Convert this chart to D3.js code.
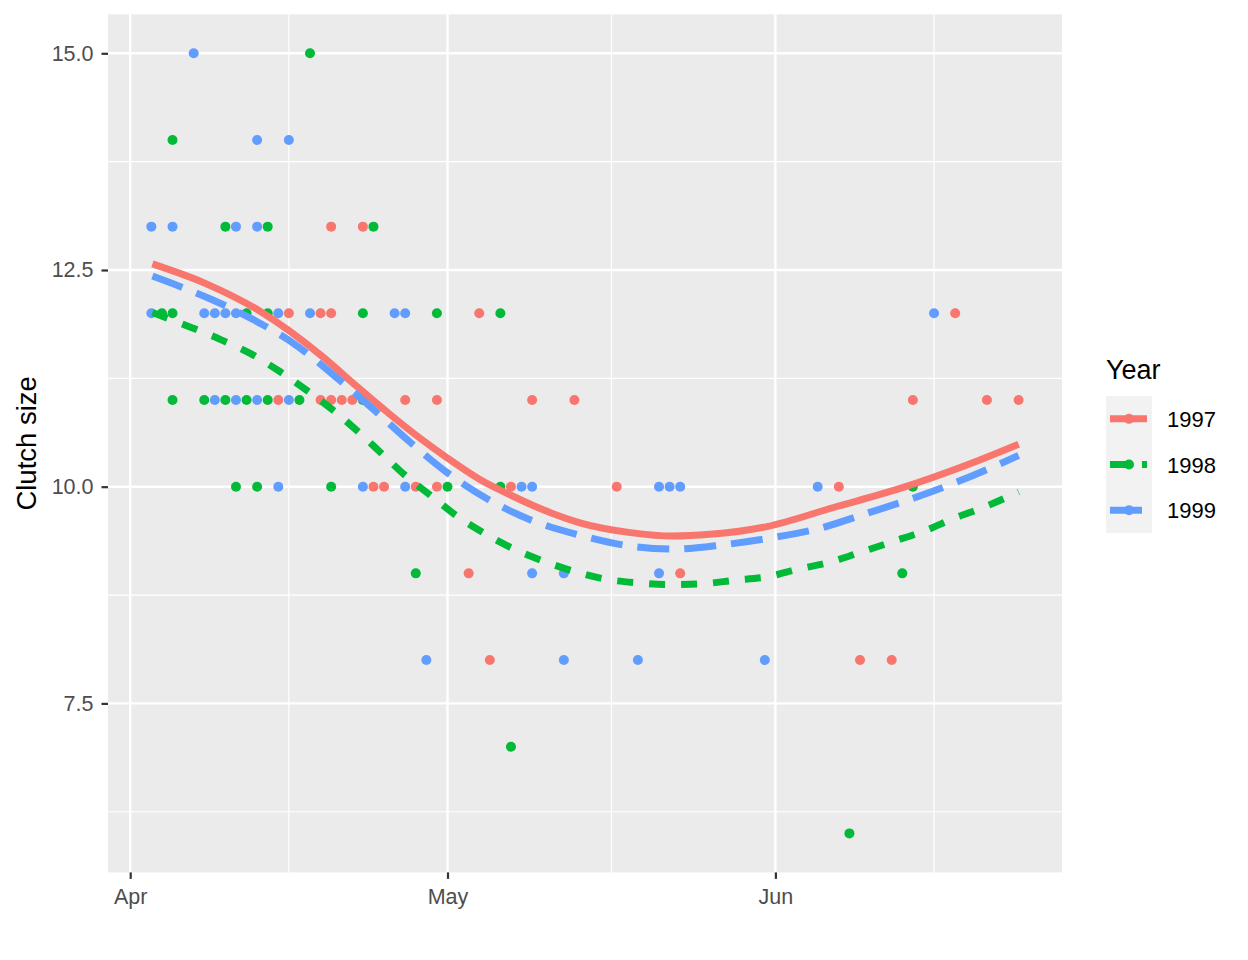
<!DOCTYPE html>
<html>
<head>
<meta charset="utf-8">
<script src="https://cdn.jsdelivr.net/npm/d3@7"></script>
<style>
  html, body { margin: 0; padding: 0; background: #ffffff; }
  svg { display: block; font-family: "Liberation Sans", Arial, sans-serif; }
</style>
</head>
<body>
<svg id="chart" width="1248" height="960"></svg>
<script>
// ---------------- data ----------------
const years = ["1997", "1998", "1999"];
const colors = ["#F8766D", "#00BA38", "#619CFF"];
const dashes = [null, "16,16", "32,15"];

// observed nests: laying date (MM-DD) and clutch size
const dates1997 = ["04-20","04-23","04-16","04-19","04-20","05-04","06-18",
  "04-15","04-19","04-20","04-21","04-22","04-27","04-30","05-09","05-13","06-14","06-21","06-24",
  "04-24","04-25","04-28","04-30","05-07","05-17","06-07","05-03","05-23","05-05","06-09","06-12"];
const clutch1997 = [13,13,12,12,12,12,12,
  11,11,11,11,11,11,11,11,11,11,11,11,
  10,10,10,10,10,10,10,9,9,8,8,8];

const dates1998 = ["04-18","04-05","04-10","04-14","04-24",
  "04-04","04-05","04-12","04-14","04-23","04-30","05-06",
  "04-05","04-08","04-10","04-12","04-14","04-17","04-23",
  "04-11","04-13","04-20","05-01","05-06","06-14","04-28","06-13","05-07","06-08"];
const clutch1998 = [15,14,13,13,13,
  12,12,12,12,12,12,12,
  11,11,11,11,11,11,11,
  10,10,10,10,10,10,9,9,7,6];

const dates1999 = ["04-07","04-13","04-16","04-03","04-05","04-11","04-13",
  "04-03","04-08","04-09","04-10","04-11","04-15","04-18","04-26","04-27","06-16",
  "04-09","04-11","04-13","04-16",
  "04-15","04-23","04-27","05-08","05-09","05-21","05-22","05-23","06-05",
  "05-09","05-12","05-21","04-29","05-12","05-19","05-31"];
const clutch1999 = [15,14,14,13,13,13,13,
  12,12,12,12,12,12,12,12,12,12,
  11,11,11,11,
  10,10,10,10,10,10,10,10,10,
  9,9,9,8,8,8,8];

// smoothed trend: days after 1 April, fitted clutch size
const smoothDays1997 = [2.1,7.2,12.2,18.2,21.4,24.5,27.5,30.0,33.1,36.2,39.1,42.6,47.3,51.3,54.8,60.2,66.5,72.8,79.1,84.0];
const smoothVals1997 = [12.57,12.34,12.03,11.50,11.16,10.84,10.55,10.33,10.08,9.89,9.73,9.58,9.47,9.43,9.45,9.54,9.76,9.98,10.25,10.49];

const smoothDays1998 = [2.1,5.7,8.5,11.3,14.0,16.6,19.1,21.5,23.8,26.1,28.5,30.9,33.5,36.3,39.1,42.05,45.1,48.1,51.1,54.1,57.1,60.2,63.2,66.2,69.2,72.2,75.1,78.0,80.85,84.0];
const smoothVals1998 = [12.01,11.84,11.70,11.54,11.34,11.12,10.89,10.64,10.38,10.12,9.89,9.66,9.46,9.28,9.14,9.02,8.93,8.89,8.87,8.88,8.92,8.96,9.05,9.13,9.25,9.37,9.49,9.64,9.77,9.94];

const smoothDays1999 = [2.1,4.7,7.7,11.75,15.6,19.3,23.1,26.4,30.0,33.9,38.0,42.5,47.0,51.5,56.1,60.6,65.2,69.6,74.1,78.5,84.0];
const smoothVals1999 = [12.43,12.31,12.16,11.92,11.64,11.28,10.88,10.52,10.16,9.85,9.61,9.44,9.32,9.28,9.33,9.41,9.52,9.69,9.87,10.07,10.36];

// axis ticks
const xTickDates = ["04-01","05-01","06-01"];
const xTickLabels = ["Apr","May","Jun"];
const xMinorDays = [15, 45.5, 76];
const yTicks = [7.5, 10.0, 12.5, 15.0];
const yMinor = [6.25, 8.75, 11.25, 13.75];
const xDomainDays = [-2.1, 88.1];
const yDomain = [5.55, 15.45];

// ---------------- helpers ----------------
const BASE = Date.UTC(2001, 3, 1);
const fromDays = d => new Date(BASE + d * 864e5);
const fromMD = s => { const [m, d] = s.split("-").map(Number); return new Date(Date.UTC(2001, m - 1, d)); };

const panel = { left: 108, right: 1062, top: 14.3, bottom: 872.4 };

const x = d3.scaleUtc().domain(xDomainDays.map(fromDays)).range([panel.left, panel.right]);
const y = d3.scaleLinear().domain(yDomain).range([panel.bottom, panel.top]);

const svg = d3.select("#chart");

// panel background
svg.append("rect")
  .attr("x", panel.left).attr("y", panel.top)
  .attr("width", panel.right - panel.left).attr("height", panel.bottom - panel.top)
  .attr("fill", "#EBEBEB");

const grid = svg.append("g");
// minor grid
grid.selectAll("line.ymin").data(yMinor).join("line")
  .attr("x1", panel.left).attr("x2", panel.right)
  .attr("y1", d => y(d)).attr("y2", d => y(d))
  .attr("stroke", "#ffffff").attr("stroke-width", 1.2);
grid.selectAll("line.xmin").data(xMinorDays).join("line")
  .attr("y1", panel.top).attr("y2", panel.bottom)
  .attr("x1", d => x(fromDays(d))).attr("x2", d => x(fromDays(d)))
  .attr("stroke", "#ffffff").attr("stroke-width", 1.2);
// major grid
grid.selectAll("line.ymaj").data(yTicks).join("line")
  .attr("x1", panel.left).attr("x2", panel.right)
  .attr("y1", d => y(d)).attr("y2", d => y(d))
  .attr("stroke", "#ffffff").attr("stroke-width", 2.4);
grid.selectAll("line.xmaj").data(xTickDates).join("line")
  .attr("y1", panel.top).attr("y2", panel.bottom)
  .attr("x1", d => x(fromMD(d))).attr("x2", d => x(fromMD(d)))
  .attr("stroke", "#ffffff").attr("stroke-width", 2.4);

// points
const pointSets = [
  { dates: dates1997, vals: clutch1997 },
  { dates: dates1998, vals: clutch1998 },
  { dates: dates1999, vals: clutch1999 }
];
pointSets.forEach((s, i) => {
  svg.append("g").selectAll("circle").data(s.dates.map((d, j) => ({ d: fromMD(d), v: s.vals[j] })))
    .join("circle")
    .attr("cx", p => x(p.d)).attr("cy", p => y(p.v)).attr("r", 5)
    .attr("fill", colors[i]);
});

// smooth lines
const smoothSets = [
  { days: smoothDays1997, vals: smoothVals1997 },
  { days: smoothDays1998, vals: smoothVals1998 },
  { days: smoothDays1999, vals: smoothVals1999 }
];
const line = d3.line().x(p => x(fromDays(p[0]))).y(p => y(p[1])).curve(d3.curveMonotoneX);
smoothSets.forEach((s, i) => {
  svg.append("path")
    .attr("d", line(s.days.map((d, j) => [d, s.vals[j]])))
    .attr("fill", "none")
    .attr("stroke", colors[i])
    .attr("stroke-width", 7)
    .attr("stroke-linecap", "butt")
    .attr("stroke-dasharray", dashes[i]);
});

// axes
const tickColor = "#333333", labelColor = "#4D4D4D";
const yAxis = svg.append("g").attr("transform", `translate(${panel.left},0)`)
  .call(d3.axisLeft(y).tickValues(yTicks).tickFormat(d3.format(".1f")).tickSize(6.5).tickPadding(8));
const xAxis = svg.append("g").attr("transform", `translate(0,${panel.bottom})`)
  .call(d3.axisBottom(x).tickValues(xTickDates.map(fromMD)).tickFormat((d, i) => xTickLabels[i]).tickSize(6.5).tickPadding(10));
[yAxis, xAxis].forEach(a => {
  a.select(".domain").remove();
  a.selectAll(".tick line").attr("stroke", tickColor).attr("stroke-width", 2.2);
  a.selectAll(".tick text").attr("fill", labelColor).attr("font-size", 21.5)
    .attr("font-family", "Liberation Sans, Arial, sans-serif");
});
xAxis.selectAll(".tick text").attr("dy", "0.71em");

// y title
svg.append("text")
  .attr("transform", `translate(36,${(panel.top + panel.bottom) / 2}) rotate(-90)`)
  .attr("text-anchor", "middle")
  .attr("font-size", 27.5).attr("fill", "#000")
  .text("Clutch size");

// legend
const lg = svg.append("g");
lg.append("text").attr("x", 1106).attr("y", 379).attr("font-size", 27).attr("fill", "#000").text("Year");
const keyTop = 396, keyH = 45.7;
lg.append("rect").attr("x", 1106).attr("y", keyTop).attr("width", 46).attr("height", keyH * 3).attr("fill", "#F2F2F2");
years.forEach((yr, i) => {
  const cy = keyTop + keyH * i + keyH / 2;
  lg.append("line").attr("x1", 1110).attr("x2", 1147).attr("y1", cy).attr("y2", cy)
    .attr("stroke", colors[i]).attr("stroke-width", 7).attr("stroke-dasharray", dashes[i]);
  lg.append("circle").attr("cx", 1129).attr("cy", cy).attr("r", 5).attr("fill", colors[i]);
  lg.append("text").attr("x", 1167).attr("y", cy + 8).attr("font-size", 22).attr("fill", "#000").text(yr);
});
</script>
</body>
</html>
